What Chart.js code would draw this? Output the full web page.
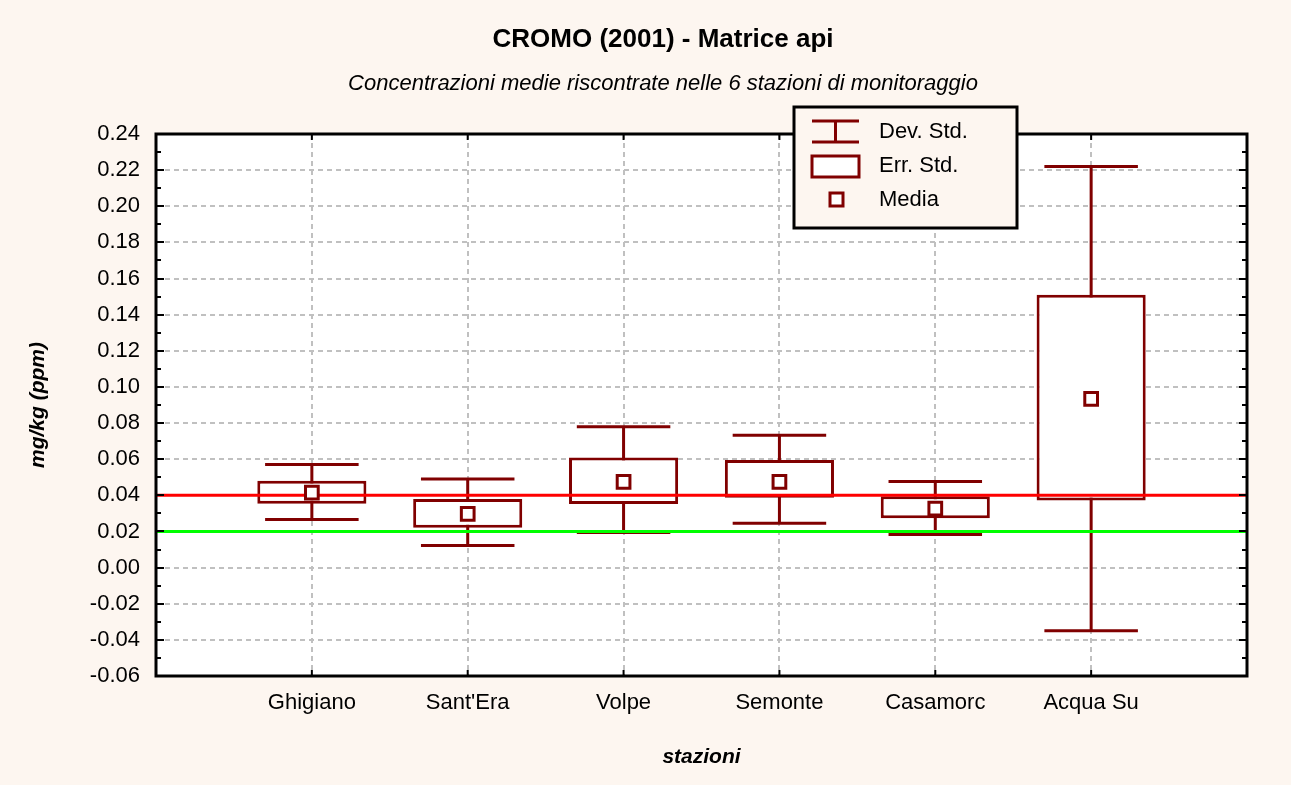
<!DOCTYPE html>
<html>
<head>
<meta charset="utf-8">
<script src="https://cdn.jsdelivr.net/npm/chart.js@4"></script>
<style>
    body { margin: 0; background: #fdf6f0; }
    canvas { display: block; }
</style>
</head>
<body>
<canvas id="myChart" width="1291" height="785"></canvas>
<script>
//data
const stazioni = ['Ghigiano', "Sant'Era", 'Volpe', 'Semonte', 'Casamorc', 'Acqua Su'];
const media = [0.0415, 0.0297, 0.0474, 0.0474, 0.0327, 0.0934];
const errStdLow = [0.0354, 0.0220, 0.0352, 0.0386, 0.0273, 0.0372];
const errStdHigh = [0.0481, 0.0380, 0.0610, 0.0596, 0.0395, 0.1510];
const devStdLow = [0.0266, 0.0123, 0.0194, 0.0245, 0.0183, -0.0349];
const devStdHigh = [0.0570, 0.0490, 0.0779, 0.0732, 0.0476, 0.2220];
const limiteRosso = 0.04;
const limiteVerde = 0.02;
const legendLabels = ['Dev. Std.', 'Err. Std.', 'Media'];

//constants
const DARK_RED = '#800000';
const FONT = "'Liberation Sans', Arial, sans-serif";

// empty slot at each end so the stations sit at 1..6 of 0..7
const labels = ['', ...stazioni, ''];
const pad = arr => [null, ...arr, null];
const flat = v => labels.map(() => v);

// white plot background + whiskers under the boxes
const plotBack = {
    id: 'plotBack',
    beforeDatasetsDraw(chart) {
        const { ctx, scales: { x, y } } = chart;
        const half = (x.getPixelForValue(2) - x.getPixelForValue(1)) * 0.3;
        ctx.save();
        ctx.strokeStyle = DARK_RED;
        ctx.lineWidth = 3;
        stazioni.forEach((s, i) => {
            const px = x.getPixelForValue(i + 1);
            const lo = y.getPixelForValue(devStdLow[i]);
            const hi = y.getPixelForValue(devStdHigh[i]);
            ctx.beginPath();
            ctx.moveTo(px, lo); ctx.lineTo(px, hi);
            ctx.moveTo(px - half, lo); ctx.lineTo(px + half, lo);
            ctx.moveTo(px - half, hi); ctx.lineTo(px + half, hi);
            ctx.stroke();
        });
        ctx.restore();
    },
    beforeDraw(chart) {
        const { ctx, chartArea: a } = chart;
        ctx.save();
        ctx.fillStyle = '#ffffff';
        ctx.fillRect(a.left, a.top, a.width, a.height);
        ctx.restore();
    }
};

// frame, inside tick marks and the legend box
const frame = {
    id: 'frame',
    afterDraw(chart) {
        const { ctx, chartArea: a, scales: { x, y } } = chart;
        ctx.save();
        ctx.strokeStyle = '#000';
        ctx.lineWidth = 2;
        ctx.beginPath();
        for (let v = -0.06; v <= 0.2401; v += 0.01) {
            const py = Math.round(y.getPixelForValue(v));
            const major = Math.round(v * 100) % 2 === 0;
            const len = major ? 8 : 5;
            ctx.moveTo(a.left, py); ctx.lineTo(a.left + len, py);
            ctx.moveTo(a.right, py); ctx.lineTo(a.right - len, py);
        }
        for (let i = 1; i <= stazioni.length; i++) {
            const px = x.getPixelForValue(i);
            ctx.moveTo(px, a.bottom); ctx.lineTo(px, a.bottom - 6);
            ctx.moveTo(px, a.top); ctx.lineTo(px, a.top + 6);
        }
        ctx.stroke();
        ctx.lineWidth = 3;
        ctx.strokeRect(a.left, a.top, a.width, a.height);

        // legend
        const lx = 794, ly = 107, lw = 223, lh = 121;
        ctx.fillStyle = '#fdf6f0';
        ctx.fillRect(lx, ly, lw, lh);
        ctx.strokeRect(lx, ly, lw, lh);
        ctx.strokeStyle = DARK_RED;
        ctx.lineWidth = 3;
        ctx.beginPath();
        ctx.moveTo(812, 121); ctx.lineTo(859, 121);
        ctx.moveTo(812, 142); ctx.lineTo(859, 142);
        ctx.moveTo(835.5, 121); ctx.lineTo(835.5, 142);
        ctx.stroke();
        ctx.fillStyle = '#ffffff';
        ctx.fillRect(812, 156, 47, 21);
        ctx.strokeRect(812, 156, 47, 21);
        ctx.fillRect(830, 193, 13, 13);
        ctx.strokeRect(830, 193, 13, 13);
        ctx.fillStyle = '#000';
        ctx.font = '22px ' + FONT;
        ctx.textBaseline = 'middle';
        ctx.textAlign = 'left';
        legendLabels.forEach((t, i) => ctx.fillText(t, 879, 132 + i * 34));
        ctx.restore();
    }
};

const ctx = document.getElementById('myChart').getContext('2d');
new Chart(ctx, {
    type: 'bar',
    data: {
        labels: labels,
        datasets: [
            {
                type: 'line',
                label: 'Media',
                data: pad(media),
                showLine: false,
                pointStyle: 'rect',
                pointRadius: 9,
                pointBorderWidth: 3,
                borderColor: DARK_RED,
                backgroundColor: '#ffffff',
                order: 1
            },
            {
                type: 'line',
                label: 'limite 0.04',
                data: flat(limiteRosso),
                borderColor: '#ff0000',
                borderWidth: 3,
                pointRadius: 0,
                order: 2
            },
            {
                type: 'line',
                label: 'limite 0.02',
                data: flat(limiteVerde),
                borderColor: '#00ff00',
                borderWidth: 3,
                pointRadius: 0,
                order: 2
            },
            {
                label: 'Err. Std.',
                data: pad(errStdLow.map((lo, i) => [lo, errStdHigh[i]])),
                backgroundColor: '#ffffff',
                borderColor: DARK_RED,
                borderWidth: 3,
                borderSkipped: false,
                barPercentage: 0.7,
                categoryPercentage: 1,
                order: 3
            }
        ]
    },
    options: {
        responsive: false,
        devicePixelRatio: 1,
        animation: false,
        layout: { padding: { left: 79, right: 44, top: 0, bottom: 0 } },
        plugins: {
            legend: { display: false },
            tooltip: { enabled: false },
            title: {
                display: true,
                text: 'CROMO (2001) - Matrice api',
                color: '#000',
                font: { family: FONT, size: 26, weight: 'bold' },
                padding: { top: 24.4, bottom: 15.2 }
            },
            subtitle: {
                display: true,
                text: 'Concentrazioni medie riscontrate nelle 6 stazioni di monitoraggio',
                color: '#000',
                font: { family: FONT, size: 22, style: 'italic' },
                padding: { top: 0, bottom: 36.8 }
            }
        },
        scales: {
            x: {
                offset: false,
                grid: { offset: false, color: '#c0c0c0', lineWidth: 2, drawTicks: false },
                border: { display: false, dash: [5, 4] },
                ticks: {
                    color: '#000',
                    font: { family: FONT, size: 22 },
                    padding: 14,
                    autoSkip: false,
                    maxRotation: 0
                },
                title: {
                    display: true,
                    text: 'stazioni',
                    color: '#000',
                    font: { family: FONT, size: 21, weight: 'bold', style: 'italic' },
                    padding: { top: 0, bottom: 15.4 }
                },
                afterFit(scale) { scale.height = 109; }
            },
            y: {
                min: -0.06,
                max: 0.24,
                grid: { color: '#c0c0c0', lineWidth: 2, drawTicks: false },
                border: { display: false, dash: [5, 4] },
                ticks: {
                    stepSize: 0.02,
                    color: '#000',
                    font: { family: FONT, size: 22 },
                    padding: 16,
                    callback: v => (Math.abs(v) < 1e-9 ? 0 : v).toFixed(2)
                },
                title: {
                    display: true,
                    text: 'mg/kg (ppm)',
                    color: '#000',
                    font: { family: FONT, size: 21, weight: 'bold', style: 'italic' },
                    padding: { top: -53.6, bottom: 0 }
                },
                afterFit(scale) { scale.width = 77; }
            }
        }
    },
    plugins: [plotBack, frame]
});
</script>
</body>
</html>
